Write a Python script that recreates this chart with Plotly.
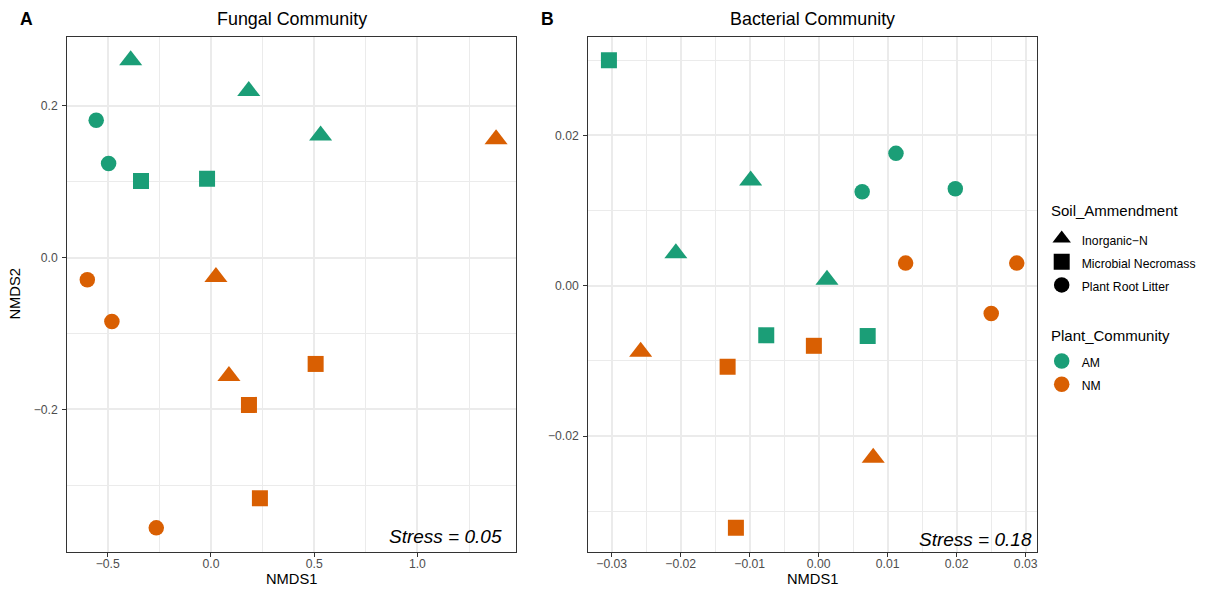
import plotly.graph_objects as go

# ---------------- data ----------------
GREEN = "#1B9E77"
ORANGE = "#D95F02"

soil_levels = ["Inorganic−N", "Microbial Necromass", "Plant Root Litter"]
plant_levels = ["AM", "NM"]
soil_symbols = {"Inorganic−N": "triangle-up", "Microbial Necromass": "square", "Plant Root Litter": "circle"}
soil_sizes = {"Inorganic−N": 20, "Microbial Necromass": 16, "Plant Root Litter": 15.5}
plant_colors = {"AM": GREEN, "NM": ORANGE}

fungal_plant = ["AM"] * 7 + ["NM"] * 9
fungal_soil = (["Inorganic−N"] * 3 + ["Microbial Necromass"] * 2 + ["Plant Root Litter"] * 2
               + ["Inorganic−N"] * 3 + ["Microbial Necromass"] * 3 + ["Plant Root Litter"] * 3)
fungal_nmds1 = [-0.389, 0.183, 0.531, -0.339, -0.019, -0.556, -0.496,
                1.381, 0.024, 0.087, 0.507, 0.184, 0.237, -0.599, -0.480, -0.265]
fungal_nmds2 = [0.260, 0.2195, 0.161, 0.101, 0.104, 0.181, 0.124,
                0.156, -0.0254, -0.156, -0.140, -0.194, -0.317, -0.029, -0.084, -0.356]

bacterial_plant = ["AM"] * 9 + ["NM"] * 8
bacterial_soil = (["Inorganic−N"] * 3 + ["Microbial Necromass"] * 3 + ["Plant Root Litter"] * 3
                  + ["Inorganic−N"] * 2 + ["Microbial Necromass"] * 3 + ["Plant Root Litter"] * 3)
bacterial_nmds1 = [-0.00986, -0.0207, 0.0012, -0.0304, -0.0076, 0.0071, 0.0063, 0.0112, 0.0198,
                   -0.0258, 0.0079, -0.0007, -0.0132, -0.0120, 0.0126, 0.0287, 0.0250]
bacterial_nmds2 = [0.0140, 0.0043, 0.0008, 0.0300, -0.0066, -0.0067, 0.0125, 0.0176, 0.0129,
                   -0.0088, -0.0229, -0.0080, -0.0108, -0.0322, 0.0030, 0.0030, -0.0037]

fungal_stress = "Stress = 0.05"
bacterial_stress = "Stress = 0.18"

# ---------------- figure ----------------
FONT = "Liberation Sans, Arial, Helvetica, sans-serif"
PAGE_W, PAGE_H = 1205, 591
OFF = 8  # default page body margin
W, H = PAGE_W - OFF, PAGE_H - OFF
fig = go.Figure()


def add_panel(xs, ys, plants, soils, xa, ya):
    for p in plant_levels:
        for s in soil_levels:
            px = [x for x, pl, so in zip(xs, plants, soils) if pl == p and so == s]
            py = [y for y, pl, so in zip(ys, plants, soils) if pl == p and so == s]
            if not px:
                continue
            fig.add_trace(go.Scatter(
                x=px, y=py, mode="markers", xaxis=xa, yaxis=ya, showlegend=False,
                marker=dict(symbol=soil_symbols[s], size=soil_sizes[s], color=plant_colors[p],
                            line=dict(width=0)),
                hoverinfo="x+y"))


add_panel(fungal_nmds1, fungal_nmds2, fungal_plant, fungal_soil, "x", "y")
add_panel(bacterial_nmds1, bacterial_nmds2, bacterial_plant, bacterial_soil, "x2", "y2")

LEG_SPAN = '<span style="font-size:12.2px">{}</span>'
# legend-only traces
for s in soil_levels:
    fig.add_trace(go.Scatter(
        x=[None], y=[None], mode="markers", name=LEG_SPAN.format(s),
        legend="legend", marker=dict(symbol=soil_symbols[s], size=soil_sizes[s], color="black")))
for p in plant_levels:
    fig.add_trace(go.Scatter(
        x=[None], y=[None], mode="markers", name=LEG_SPAN.format(p),
        legend="legend2", marker=dict(symbol="circle", size=15.5, color=plant_colors[p])))


def px2x(px):
    return (px - OFF) / W


def px2y(py):
    return 1 - (py - OFF) / H


axis_common = dict(
    showline=True, mirror=True, linecolor="#333333", linewidth=1.2,
    ticks="outside", ticklen=4, tickwidth=1.2, tickcolor="#333333",
    tickfont=dict(family=FONT, size=12.2, color="#4D4D4D"),
    showgrid=True, gridcolor="#EBEBEB", gridwidth=1.8, zeroline=False,
)
minor_common = dict(showgrid=True, gridcolor="#EBEBEB", gridwidth=0.9)

fig.update_layout(
    width=W, height=H, margin=dict(l=0, r=0, t=0, b=0),
    paper_bgcolor="white", plot_bgcolor="white",
    font=dict(family=FONT, color="black"),
    xaxis=dict(domain=[px2x(67.3), px2x(516.3)], range=[-0.696, 1.479], anchor="y",
               tick0=0, dtick=0.5, tickformat=".1f", ticklabelstandoff=-3,
               minor=dict(tick0=0.25, dtick=0.5, **minor_common), **axis_common),
    yaxis=dict(domain=[px2y(551.7), px2y(37.3)], range=[-0.3874, 0.2904], anchor="x",
               tick0=0, dtick=0.2, tickformat=".1f", ticklabelstandoff=2,
               minor=dict(tick0=0.1, dtick=0.2, **minor_common), **axis_common),
    xaxis2=dict(domain=[px2x(588.3), px2x(1037.3)], range=[-0.03339, 0.03168], anchor="y2",
                tick0=0, dtick=0.01, tickformat=".2f", ticklabelstandoff=-3,
                minor=dict(tick0=0.005, dtick=0.01, **minor_common), **axis_common),
    yaxis2=dict(domain=[px2y(551.7), px2y(37.3)], range=[-0.03539, 0.03304], anchor="x2",
                tick0=0, dtick=0.02, tickformat=".2f", ticklabelstandoff=2,
                minor=dict(tick0=0.01, dtick=0.02, **minor_common), **axis_common),
    legend=dict(font=dict(family=FONT, size=15.5, color="black"),
                x=px2x(1041.7), y=px2y(222), xanchor="left", yanchor="top",
                bgcolor="rgba(0,0,0,0)", itemsizing="trace", tracegroupgap=0),
    legend2=dict(font=dict(family=FONT, size=15.5, color="black"),
                 x=px2x(1041.7), y=px2y(344.5), xanchor="left", yanchor="top",
                 bgcolor="rgba(0,0,0,0)", itemsizing="trace", tracegroupgap=0),
)

annotations = [
    dict(text="<b>A</b>", x=px2x(18.3), y=px2y(19.2), xanchor="left", yanchor="middle", size=17.6),
    dict(text="<b>B</b>", x=px2x(539), y=px2y(19.2), xanchor="left", yanchor="middle", size=17.6),
    dict(text="Fungal Community", x=px2x(291.8), y=px2y(19.3), xanchor="center", yanchor="middle", size=17.9),
    dict(text="Bacterial Community", x=px2x(812.8), y=px2y(19.3), xanchor="center", yanchor="middle", size=17.9),
    dict(text="NMDS1", x=px2x(291.8), y=px2y(579), xanchor="center", yanchor="middle", size=14.7),
    dict(text="NMDS1", x=px2x(812.8), y=px2y(579), xanchor="center", yanchor="middle", size=14.7),
    dict(text="NMDS2", x=px2x(14), y=px2y(294.5), xanchor="center", yanchor="middle", size=14.7, textangle=-90),
    dict(text="Soil_Ammendment", x=px2x(1048.5), y=px2y(211), xanchor="left", yanchor="middle", size=15),
    dict(text="Plant_Community", x=px2x(1048.5), y=px2y(335.7), xanchor="left", yanchor="middle", size=15),
    dict(text="<i>" + fungal_stress + "</i>", x=px2x(503.5), y=px2y(536.7), xanchor="right", yanchor="middle", size=19),
    dict(text="<i>" + bacterial_stress + "</i>", x=px2x(1034), y=px2y(539.5), xanchor="right", yanchor="middle", size=19),
]
for a in annotations:
    size = a.pop("size")
    fig.add_annotation(xref="paper", yref="paper", showarrow=False,
                       font=dict(family=FONT, size=size, color="black"), **a)

fig.write_html("out.html")
